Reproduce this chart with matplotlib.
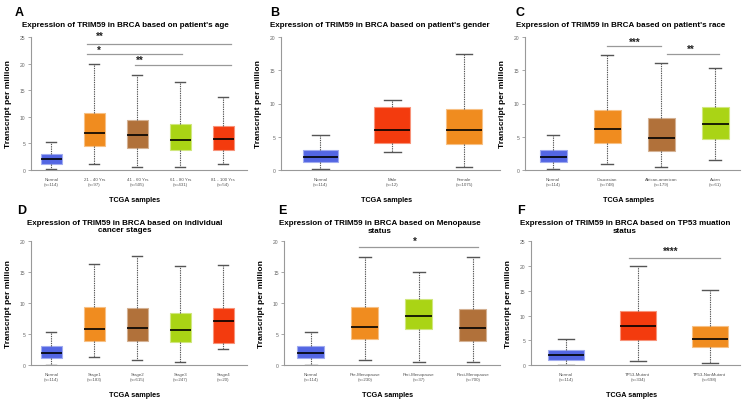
import matplotlib
matplotlib.use("Agg")
import matplotlib.pyplot as plt
from matplotlib.colors import to_rgb

plt.rcParams['font.family'] = ['Liberation Sans', 'DejaVu Sans']

# box stats: (lower whisker, q1, median, q3, upper whisker)
normal_box = (0.05, 1.1, 1.95, 3.05, 5.3)

age_labels = ["Normal\n(n=114)", "21 - 40 Yrs\n(n=97)", "41 - 60 Yrs\n(n=505)",
              "61 - 80 Yrs\n(n=431)", "81 - 100 Yrs\n(n=54)"]
age_box = [normal_box, (1.1, 4.4, 7.0, 10.7, 19.9), (0.6, 4.1, 6.5, 9.4, 17.8),
           (0.5, 3.65, 5.6, 8.55, 16.5), (1.1, 3.8, 5.8, 8.2, 13.8)]

gender_labels = ["Normal\n(n=114)", "Male\n(n=12)", "Female\n(n=1075)"]
gender_box = [normal_box, (2.6, 4.0, 6.05, 9.4, 10.5), (0.45, 3.9, 6.05, 9.1, 17.5)]

race_labels = ["Normal\n(n=114)", "Caucasian\n(n=748)", "African-american\n(n=179)", "Asian\n(n=61)"]
race_box = [normal_box, (0.9, 4.0, 6.1, 9.0, 17.3), (0.45, 2.9, 4.8, 7.8, 16.1),
            (1.5, 4.6, 6.95, 9.4, 15.4)]

stage_labels = ["Normal\n(n=114)", "Stage1\n(n=183)", "Stage2\n(n=615)", "Stage3\n(n=247)", "Stage4\n(n=20)"]
stage_box = [normal_box, (1.25, 3.9, 5.9, 9.4, 16.4), (0.75, 3.95, 5.95, 9.2, 17.7),
             (0.45, 3.75, 5.7, 8.4, 16.0), (2.55, 3.55, 7.05, 9.2, 16.1)]

meno_labels = ["Normal\n(n=114)", "Pre-Menopause\n(n=230)", "Peri-Menopause\n(n=37)", "Post-Menopause\n(n=700)"]
meno_box = [normal_box, (0.75, 4.15, 6.1, 9.3, 17.4), (0.55, 5.8, 7.85, 10.6, 15.0),
            (0.45, 3.8, 5.95, 9.05, 17.4)]

tp53_labels = ["Normal\n(n=114)", "TP53-Mutant\n(n=334)", "TP53-NonMutant\n(n=698)"]
tp53_box = [normal_box, (0.75, 5.1, 7.85, 11.0, 20.1), (0.35, 3.6, 5.2, 7.9, 15.2)]

# significance bars: (x start, x end, y, star text, star x, star y)
age_sig = [(0.82, 4.17, 23.7, "**", 1.12, 25.3), (0.82, 3.03, 21.85, "*", 1.1, 22.6),
           (1.95, 4.17, 19.8, "**", 2.05, 20.7)]
race_sig = [(1.0, 2.0, 18.7, "***", 1.52, 19.35), (2.1, 3.07, 17.5, "**", 2.55, 18.2)]
meno_sig = [(0.89, 3.1, 19.1, "*", 1.93, 20.1)]
tp53_sig = [(0.87, 2.14, 21.6, "****", 1.46, 23.0)]

titles = ["Expression of TRIM59 in BRCA based on patient's age",
          "Expression of TRIM59 in BRCA based on patient's gender",
          "Expression of TRIM59 in BRCA based on patient's race",
          "Expression of TRIM59 in BRCA based on individual\ncancer stages",
          "Expression of TRIM59 in BRCA based on Menopause\nstatus",
          "Expression of TRIM59 in BRCA based on TP53 muation\nstatus"]

BLUE = "#5366E3"
ORANGE = "#F08C1F"
BROWN = "#B1713A"
LIME = "#AAD415"
RED = "#F33B0E"

W, H = 750, 402
fig = plt.figure(figsize=(7.5, 4.02), dpi=100)


def add_axes(l, r, t, b):
    return fig.add_axes([l / W, 1 - b / H, (r - l) / W, (b - t) / H])


def lighten(c, f=0.45):
    r, g, b = to_rgb(c)
    return (r + (1 - r) * f, g + (1 - g) * f, b + (1 - b) * f)


def draw_panel(ax, labels, boxes, colors, ymax, xlim, sig):
    stats = [dict(whislo=s[0], q1=s[1], med=s[2], q3=s[3], whishi=s[4], fliers=[]) for s in boxes]
    bp = ax.bxp(stats, positions=list(range(len(boxes))), widths=0.5, capwidths=0.23,
                patch_artist=True, showfliers=False,
                whiskerprops=dict(color="#555555", lw=0.8, linestyle=(0, (1.2, 0.9))),
                capprops=dict(color="#555555", lw=1.0),
                medianprops=dict(color="black", lw=1.2))
    for patch, c in zip(bp['boxes'], colors):
        patch.set_facecolor(c)
        patch.set_edgecolor(lighten(c))
        patch.set_linewidth(0.8)
    ax.set_xlim(*xlim)
    ax.set_ylim(0, ymax)
    ax.set_yticks(range(0, ymax + 1, 5))
    ax.set_xticks(range(len(labels)), labels)
    for s in ("top", "right"):
        ax.spines[s].set_visible(False)
    for s in ("left", "bottom"):
        ax.spines[s].set_color("#999999")
        ax.spines[s].set_linewidth(0.8)
    ax.tick_params(axis='x', length=0, pad=5, labelsize=3.2, labelcolor="#555555")
    ax.tick_params(axis='y', length=2.5, width=0.6, color="#999999", pad=1.5,
                   labelsize=3.6, labelcolor="#666666")
    for lab in ax.get_xticklabels():
        lab.set_linespacing(1.3)
    ax.set_ylabel("Transcript per million", fontsize=6.1, fontweight="bold")
    bbox = ax.get_position()
    ax.yaxis.set_label_coords(-19 / (bbox.width * W), 0.5)
    ax.set_xlabel("TCGA samples", fontsize=5.2, fontweight="bold")
    ax.xaxis.set_label_coords(0.48, -26 / (bbox.height * H))
    for x0, x1, y, txt, xs, ys in sig:
        ax.plot([x0, x1], [y, y], color="#999999", lw=0.9, clip_on=False)
        ax.text(xs, ys, txt, ha="center", va="center", fontsize=7,
                fontweight="bold", color="#222222")


axA = add_axes(30.7, 247, 38.3, 170.7)
axB = add_axes(281, 500, 38.3, 170.7)
axC = add_axes(525, 740, 38.3, 170.7)
axD = add_axes(30.7, 247, 242.3, 366)
axE = add_axes(284.3, 500, 242.3, 366)
axF = add_axes(530.7, 740, 242.3, 366)

draw_panel(axA, age_labels, age_box, [BLUE, ORANGE, BROWN, LIME, RED], 25, (-0.48, 4.55), age_sig)
draw_panel(axB, gender_labels, gender_box, [BLUE, RED, ORANGE], 20, (-0.55, 2.5), [])
draw_panel(axC, race_labels, race_box, [BLUE, ORANGE, BROWN, LIME], 20, (-0.52, 3.46), race_sig)
draw_panel(axD, stage_labels, stage_box, [BLUE, ORANGE, BROWN, LIME, RED], 20, (-0.48, 4.55), [])
draw_panel(axE, meno_labels, meno_box, [BLUE, ORANGE, LIME, BROWN], 20, (-0.49, 3.5), meno_sig)
draw_panel(axF, tp53_labels, tp53_box, [BLUE, RED, ORANGE], 25, (-0.49, 2.42), tp53_sig)

# titles and panel letters
title_pos = [(125.5, 25.7), (380, 25.7), (621, 25.7), (125, 227), (380, 227.5), (625, 227.5)]
for (x, y), t in zip(title_pos, titles):
    fig.text(x / W, 1 - y / H, t, ha="center", va="center", fontsize=5.75,
             fontweight="bold", linespacing=1.15)

letters = ["A", "B", "C", "D", "E", "F"]
letter_pos = [(15, 13.5), (270.5, 13.5), (515, 13.5), (17, 211.5), (278, 211.5), (517, 211.5)]
for (x, y), t in zip(letter_pos, letters):
    fig.text(x / W, 1 - y / H, t, ha="left", va="center", fontsize=9, fontweight="bold")

fig.savefig("out.png", dpi=100)
